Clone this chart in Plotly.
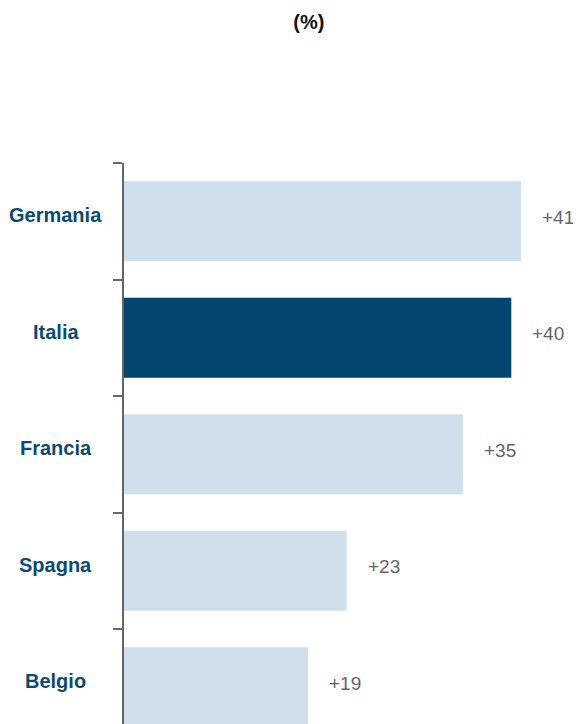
import plotly.graph_objects as go

countries = ['Germania', 'Italia', 'Francia', 'Spagna', 'Belgio']
values = [41, 40, 35, 23, 19]
labels = ['+41', '+40', '+35', '+23', '+19']
highlight = 'Italia'

LIGHT = '#d0dfec'
DARK = '#00466e'
LABEL_COLOR = '#0b4a72'

colors = [DARK if c == highlight else LIGHT for c in countries]

fig = go.Figure()

fig.add_trace(go.Bar(
    x=values,
    y=countries,
    orientation='h',
    marker=dict(color=colors, line=dict(width=0)),
    width=0.687,
    hoverinfo='skip',
))

# value labels to the right of each bar
for c, v, t in zip(countries, values, labels):
    fig.add_annotation(
        x=v, y=c, text=t, showarrow=False,
        xanchor='left', xshift=19, yshift=4,
        font=dict(family='Liberation Sans, Arial, sans-serif', size=19, color='#666666'),
    )

# category labels, centred in the left margin
for c in countries:
    fig.add_annotation(
        x=-0.149, xref='paper', y=c, text=f'<b>{c}</b>', showarrow=False,
        xanchor='center', yshift=6,
        font=dict(family='Liberation Sans, Arial, sans-serif', size=20, color=LABEL_COLOR),
    )

# page body has an 8px margin, so the figure is sized to fit the window
fig.update_layout(
    width=573,
    height=716,
    plot_bgcolor='white',
    paper_bgcolor='white',
    showlegend=False,
    margin=dict(l=116, r=0, t=155, b=0),
    title=dict(
        text='<b>(%)</b>',
        x=0.525, xanchor='center',
        y=0.98, yanchor='middle',
        font=dict(family='Liberation Sans, Arial, sans-serif', size=20, color='#111111'),
    ),
    xaxis=dict(range=[0, 47.2], visible=False, fixedrange=True),
    yaxis=dict(
        categoryorder='array',
        categoryarray=countries,
        range=[4.315, -0.5],
        showticklabels=False,
        showgrid=False,
        showline=True,
        linecolor='#666666',
        linewidth=1.5,
        ticks='outside',
        tickson='boundaries',
        ticklen=9,
        tickwidth=1.5,
        tickcolor='#666666',
        fixedrange=True,
    ),
)

fig.write_html("out.html")
